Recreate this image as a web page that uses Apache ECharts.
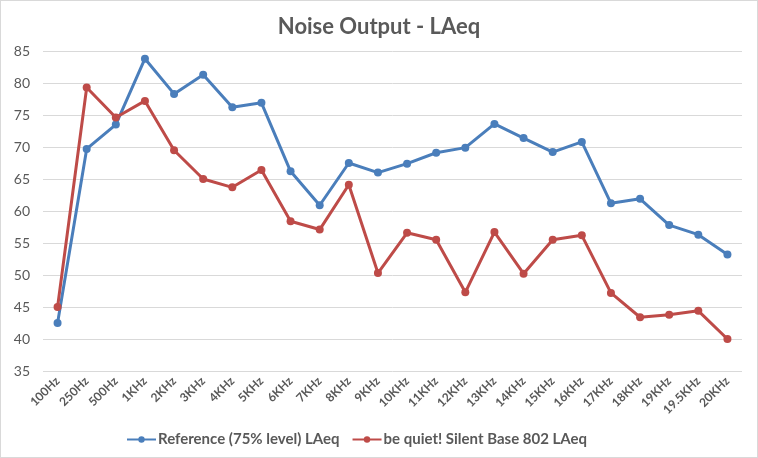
<!DOCTYPE html>
<html><head><meta charset="utf-8">
<script src="https://cdn.jsdelivr.net/npm/echarts@6/dist/echarts.min.js"></script>
<style>
html,body{margin:0;padding:0;background:#fff;}
#c{position:absolute;left:0;top:0;width:756px;height:456px;border:1px solid #d9d9d9;}
</style></head><body>
<div id="c"></div>
<script>
const categories = ['100Hz','250Hz','500Hz','1KHz','2KHz','3KHz','4KHz','5KHz','6KHz','7KHz','8KHz','9KHz','10KHz','11KHz','12KHz','13KHz','14KHz','15KHz','16KHz','17KHz','18KHz','19KHz','19.5KHz','20KHz'];
const referenceLAeq = [42.5,69.7,73.5,83.8,78.3,81.3,76.2,76.9,66.2,60.9,67.5,66.0,67.4,69.1,69.9,73.6,71.4,69.2,70.8,61.2,61.9,57.8,56.3,53.2];
const silentBaseLAeq = [45.0,79.3,74.6,77.2,69.5,65.0,63.7,66.4,58.4,57.1,64.1,50.3,56.6,55.5,47.3,56.7,50.2,55.5,56.2,47.2,43.4,43.8,44.4,40.0];
const seriesNames = ['Reference (75% level) LAeq','be quiet! Silent Base 802 LAeq'];

const chart = echarts.init(document.getElementById('c'));
const font = 'Lato, "Open Sans", sans-serif';
chart.setOption({
  animation:false,
  title:{text:'Noise Output - LAeq',left:'center',top:10,textStyle:{fontFamily:font,fontSize:22,fontWeight:'bold',color:'#595959'}},
  grid:{left:42,right:15,top:50,bottom:86,containLabel:false},
  legend:{top:431,left:125,itemWidth:29,itemHeight:8,itemGap:12,padding:0,
    textStyle:{fontFamily:font,fontSize:15,fontWeight:'bold',color:'#595959',padding:[0,0,0,-3]},
    data:seriesNames},
  xAxis:{type:'category',data:categories,boundaryGap:true,
    axisLine:{show:false},axisTick:{show:false},
    axisLabel:{rotate:45,interval:0,fontFamily:font,fontSize:12,fontWeight:'bold',color:'#595959',margin:8}},
  yAxis:{type:'value',min:35,max:85,interval:5,
    axisLine:{show:false},axisTick:{show:false},
    splitLine:{lineStyle:{color:'#d9d9d9',width:1}},
    axisLabel:{fontFamily:font,fontSize:14,color:'#595959',margin:13}},
  series:[
    {name:seriesNames[0],type:'line',data:referenceLAeq,symbol:'circle',symbolSize:8,
     lineStyle:{width:3,color:'#4a7ebb'},itemStyle:{color:'#4a7ebb'}},
    {name:seriesNames[1],type:'line',data:silentBaseLAeq,symbol:'circle',symbolSize:8,
     lineStyle:{width:3,color:'#be4b48'},itemStyle:{color:'#be4b48'}}
  ]
});
</script>
</body></html>
